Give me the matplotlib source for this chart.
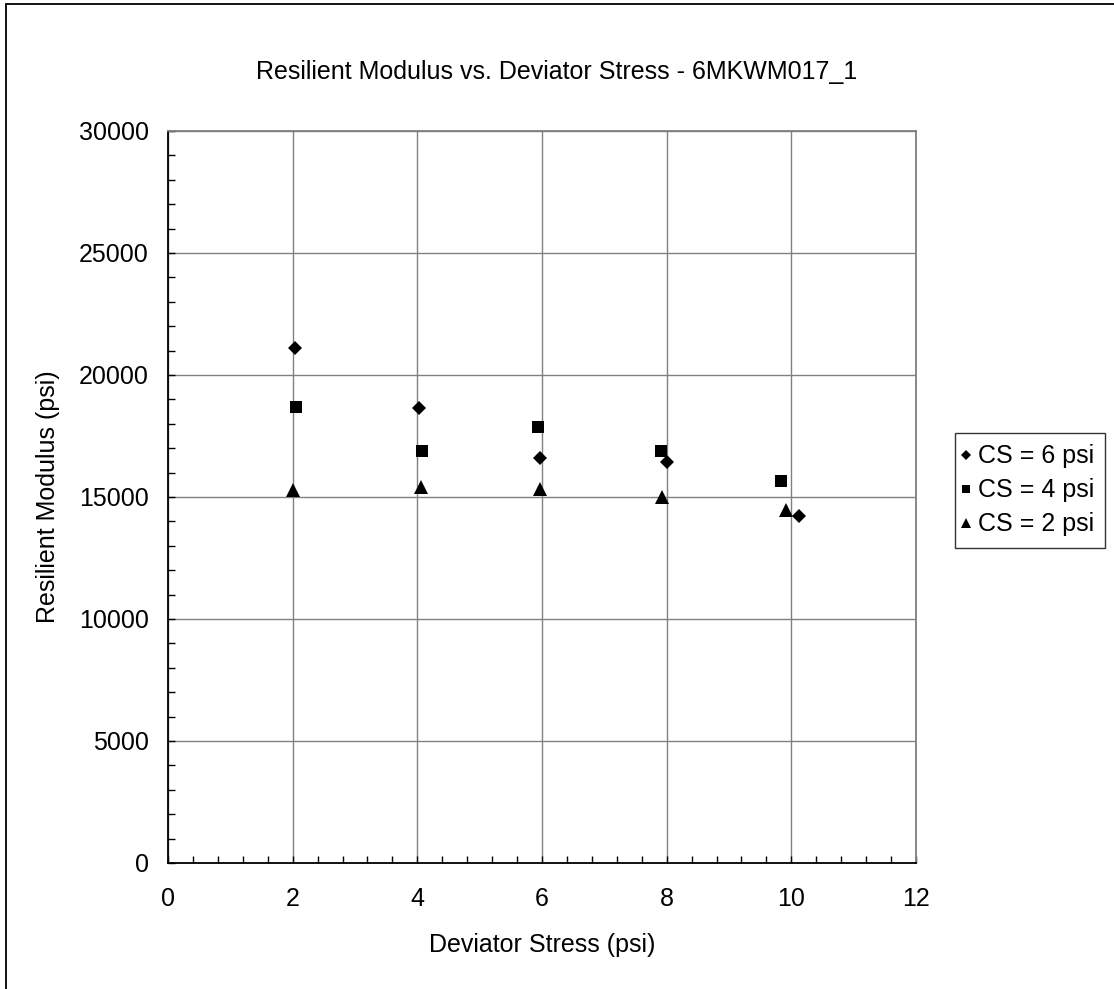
import matplotlib
matplotlib.use("Agg")
import matplotlib.pyplot as plt
from matplotlib.patches import Rectangle
from matplotlib.ticker import MultipleLocator

plt.rcParams['font.family'] = ['Liberation Sans', 'DejaVu Sans']

# Data
cs6_x = [2.03, 4.03, 5.96, 8.00, 10.12]
cs6_y = [21120, 18650, 16610, 16450, 14220]
cs4_x = [2.05, 4.07, 5.94, 7.91, 9.84]
cs4_y = [18700, 16900, 17880, 16900, 15660]
cs2_x = [2.00, 4.06, 5.96, 7.92, 9.91]
cs2_y = [15290, 15420, 15340, 15010, 14460]
labels = ["CS = 6 psi", "CS = 4 psi", "CS = 2 psi"]

W, H = 1114, 989
fig = plt.figure(figsize=(W / 100, H / 100), dpi=100)
ax = fig.add_axes([168 / W, 1 - 863 / H, (916 - 168) / W, (863 - 131) / H])

fs = 18

ax.plot(cs6_x, cs6_y, linestyle='none', marker='D', ms=6.8, color='black', mew=0, label=labels[0])
ax.plot(cs4_x, cs4_y, linestyle='none', marker='s', ms=8.2, color='black', mew=0, label=labels[1])
ax.plot(cs2_x, cs2_y, linestyle='none', marker='^', ms=9.5, color='black', mew=0, label=labels[2])

ax.set_xlim(0, 12)
ax.set_ylim(0, 30000)
ax.xaxis.set_major_locator(MultipleLocator(2))
ax.xaxis.set_minor_locator(MultipleLocator(0.4))
ax.yaxis.set_major_locator(MultipleLocator(5000))
ax.yaxis.set_minor_locator(MultipleLocator(1000))
ax.grid(True, which='major', color='#808080', lw=1)
ax.set_axisbelow(True)

ax.tick_params(which='both', direction='in', top=False, right=False, labelsize=fs, color='black')
ax.tick_params(which='major', length=5, width=1)
ax.tick_params(which='minor', length=5, width=1)
ax.tick_params(axis='x', which='major', pad=17)
ax.tick_params(axis='y', which='major', pad=14)

for s in ['left', 'bottom']:
    ax.spines[s].set_color('black')
    ax.spines[s].set_linewidth(1.3)
for s in ['top', 'right']:
    ax.spines[s].set_color('#808080')
    ax.spines[s].set_linewidth(1.3)

fig.text(557 / W, 1 - 72 / H, "Resilient Modulus vs. Deviator Stress - 6MKWM017_1",
         ha='center', va='center', fontsize=fs)
fig.text(542 / W, 1 - 945 / H, "Deviator Stress (psi)", ha='center', va='center', fontsize=fs)
fig.text(48 / W, 1 - 497 / H, "Resilient Modulus (psi)", ha='center', va='center',
         rotation=90, fontsize=fs)

leg = fig.legend(loc='upper left', bbox_to_anchor=(955 / W, 1 - 433 / H),
                 frameon=True, fancybox=False, fontsize=fs, markerscale=0.7,
                 handlelength=0.0, handletextpad=0.45, borderpad=0.45,
                 labelspacing=0.4, borderaxespad=0)
leg.get_frame().set_edgecolor('black')
leg.get_frame().set_linewidth(1.0)

fig.patches.append(Rectangle((6 / W, -0.05), 1.1, 1 - 4 / H + 0.05, transform=fig.transFigure,
                             fill=False, edgecolor='black', lw=1.3))

fig.savefig("out.png", dpi=100, facecolor='white')
